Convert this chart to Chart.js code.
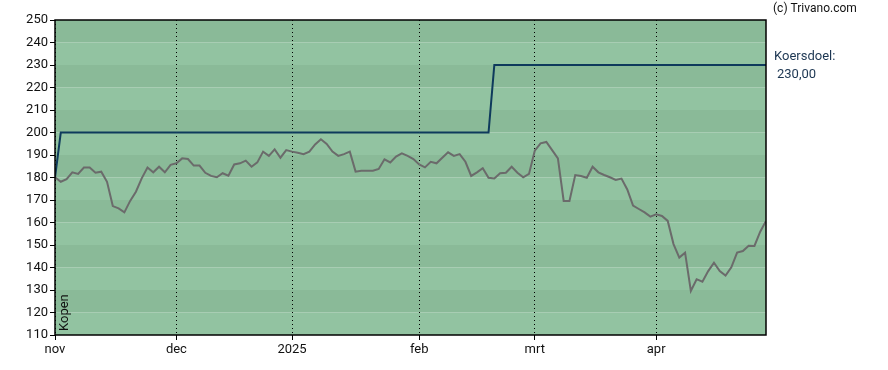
<!DOCTYPE html>
<html>
<head>
<meta charset="utf-8">
<script src="https://cdn.jsdelivr.net/npm/chart.js@4"></script>
<style>
  html, body { margin: 0; padding: 0; background: #fff; }
  #wrap { width: 888px; height: 370px; position: relative; }
</style>
</head>
<body>
<div id="wrap"><canvas id="chart"></canvas></div>
<script>
// trading-day index of each month start, with its label
const monthTicks = [0, 21, 41, 63, 83, 104];
const monthLabels = ['nov', 'dec', '2025', 'feb', 'mrt', 'apr'];

// daily close, one per trading day
const price = [
    180.1, 178.1, 179.3, 182.3, 181.6, 184.4, 184.4, 182.1, 182.6, 178.1,
    167.3, 166.3, 164.5, 169.6, 173.7, 179.6, 184.4, 182.3, 184.8, 182.3,
    185.6, 186.3, 188.5, 188.2, 185.3, 185.3, 182.1, 180.7, 180.1, 181.9,
    180.8, 185.8, 186.3, 187.5, 184.8, 186.7, 191.5, 189.6, 192.5, 188.8,
    192.2, 191.5, 191.0, 190.4, 191.5, 194.7, 197.0, 194.9, 191.5, 189.6,
    190.4, 191.5, 182.6, 183.0, 183.0, 183.0, 183.8, 188.1, 186.7, 189.3,
    190.7, 189.6, 188.2, 185.8, 184.5, 187.0, 186.3, 188.8, 191.2, 189.6,
    190.4, 187.0, 180.7, 182.3, 184.1, 179.9, 179.6, 181.9, 182.1, 184.8,
    182.1, 180.1, 181.6, 191.9, 195.2, 195.8, 192.2, 188.5, 169.6, 169.6,
    181.1, 180.7, 179.9, 184.8, 182.3, 181.1, 180.1, 178.9, 179.5, 174.7,
    167.5, 166.0, 164.5, 162.6, 163.6, 162.9, 160.7, 150.4, 144.4, 146.6,
    129.6, 134.8, 133.7, 138.4, 142.1, 138.4, 136.4, 140.1, 146.6, 147.3,
    149.7, 149.6, 155.9, 160.7
];

// koersdoel (price target) steps
const targetX = [0, 1, 75, 76, 123];
const targetY = [180, 200, 200, 230, 230];

const Y_MIN = 110, Y_MAX = 250, Y_STEP = 10;
const FONT = 'Roboto, "Liberation Sans", Arial, sans-serif';

const backdrop = {
    id: 'backdrop',
    beforeDraw(chart) {
        const { ctx, chartArea: a, scales: { y } } = chart;
        ctx.save();
        for (let v = Y_MIN; v < Y_MAX; v += Y_STEP) {
            const top = y.getPixelForValue(v + Y_STEP);
            const bot = y.getPixelForValue(v);
            ctx.fillStyle = (v / 10) % 2 === 0 ? '#8aba98' : '#92c3a1';
            ctx.fillRect(a.left, top, a.right - a.left, bot - top);
        }
        ctx.restore();
    },
    afterDraw(chart) {
        const { ctx, chartArea: a } = chart;
        ctx.save();
        ctx.strokeStyle = '#000';
        ctx.lineWidth = 1.5;
        ctx.strokeRect(a.left, a.top, a.right - a.left, a.bottom - a.top);

        ctx.fillStyle = '#111';
        ctx.font = '12px ' + FONT;
        ctx.textBaseline = 'middle';
        ctx.fillText('(c) Trivano.com', a.right + 7, 9);

        ctx.fillStyle = '#1c3652';
        ctx.font = '13px ' + FONT;
        ctx.fillText('Koersdoel:', a.right + 8, 57);
        ctx.fillText('230,00', a.right + 11, 75);

        ctx.fillStyle = '#111';
        ctx.translate(a.left + 10, a.bottom - 4);
        ctx.rotate(-Math.PI / 2);
        ctx.textBaseline = 'middle';
        ctx.fillText('Kopen', 0, 0);
        ctx.restore();
    }
};

new Chart(document.getElementById('chart'), {
    type: 'line',
    data: {
        datasets: [
            {
                label: 'Koers',
                data: price.map((v, i) => ({ x: i, y: v })),
                borderColor: '#6b6b6b',
                borderWidth: 2,
                pointRadius: 0,
                tension: 0
            },
            {
                label: 'Koersdoel',
                data: targetX.map((x, i) => ({ x, y: targetY[i] })),
                borderColor: '#0e3a5c',
                borderWidth: 2,
                pointRadius: 0,
                tension: 0
            }
        ]
    },
    options: {
        responsive: true,
        maintainAspectRatio: false,
        animation: false,
        layout: { padding: { top: 20, right: 122, left: 0, bottom: 0 } },
        plugins: { legend: { display: false }, tooltip: { enabled: false } },
        scales: {
            x: {
                type: 'linear',
                min: 0,
                max: 123,
                afterBuildTicks: s => { s.ticks = monthTicks.map(v => ({ value: v })); },
                afterFit: s => { s.height = 35; },
                ticks: {
                    autoSkip: false,
                    maxRotation: 0,
                    padding: 2,
                    color: '#111',
                    font: { family: FONT, size: 13 },
                    callback: v => monthLabels[monthTicks.indexOf(v)] ?? ''
                },
                grid: { color: '#000', lineWidth: 1, tickLength: 5, tickColor: '#000' },
                border: { display: false, dash: [1, 3] }
            },
            y: {
                min: Y_MIN,
                max: Y_MAX,
                afterFit: s => { s.width = 55; },
                ticks: {
                    stepSize: Y_STEP,
                    padding: 2,
                    color: '#111',
                    font: { family: FONT, size: 13 }
                },
                grid: { drawOnChartArea: false, tickLength: 5, tickColor: '#000' },
                border: { display: false }
            }
        }
    },
    plugins: [backdrop]
});
</script>
</body>
</html>
